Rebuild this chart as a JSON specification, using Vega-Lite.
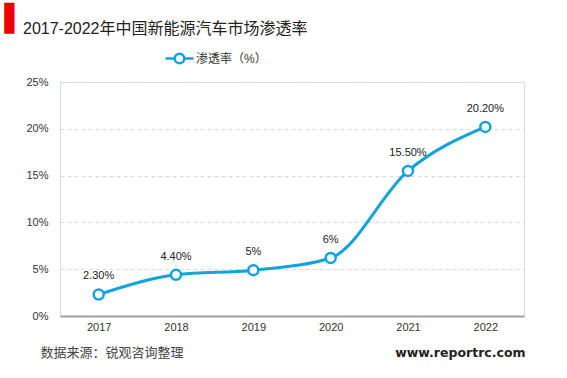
{
  "$schema": "https://vega.github.io/schema/vega-lite/v6.json",
  "width": 464,
  "height": 234,
  "autosize": {"type": "none"},
  "padding": {"left": 60, "top": 82, "right": 43, "bottom": 62},
  "background": "white",
  "config": {
    "view": {"stroke": "#dcdcdc", "strokeWidth": 1},
    "font": "Liberation Sans, Noto Sans CJK SC"
  },
  "data": {
    "values": [
      {"year": "2017", "rate": 2.3, "label": "2.30%", "series": "渗透率（%）"},
      {"year": "2018", "rate": 4.4, "label": "4.40%", "series": "渗透率（%）"},
      {"year": "2019", "rate": 4.9, "label": "5%", "series": "渗透率（%）"},
      {"year": "2020", "rate": 6.2, "label": "6%", "series": "渗透率（%）"},
      {"year": "2021", "rate": 15.5, "label": "15.50%", "series": "渗透率（%）"},
      {"year": "2022", "rate": 20.2, "label": "20.20%", "series": "渗透率（%）"}
    ]
  },
  "layer": [
    {
      "mark": {"type": "line", "interpolate": "monotone", "strokeWidth": 3},
      "encoding": {
        "x": {
          "field": "year", "type": "ordinal",
          "scale": {"type": "point", "padding": 0.5},
          "axis": {
            "orient": "bottom", "domainColor": "#a0a0a0", "domainWidth": 2, "ticks": false,
            "labelPadding": 5, "labelFontSize": 11, "labelColor": "#333", "labelAngle": 0,
            "title": "数据来源：锐观咨询整理", "titleX": -20, "titleY": 36, "titleAlign": "left",
            "titleBaseline": "middle", "titleFontSize": 13, "titleFontWeight": "normal",
            "titleColor": "#444", "titleFont": "Noto Sans CJK SC"
          }
        },
        "y": {
          "field": "rate", "type": "quantitative",
          "scale": {"domain": [0, 25], "nice": false},
          "axis": {
            "orient": "left", "values": [0, 5, 10, 15, 20, 25], "labelExpr": "datum.value + '%'",
            "domain": false, "ticks": false, "grid": true, "gridColor": "#d9d9d9", "gridDash": [4, 3],
            "labelPadding": 12, "labelFontSize": 11, "labelColor": "#333",
            "title": "▌", "titleColor": "#ee0000", "titleFont": "DejaVu Sans", "titleFontSize": 26,
            "titleFontWeight": "normal", "titleAngle": 0, "titleX": -56, "titleY": -77,
            "titleAlign": "left", "titleBaseline": "top"
          }
        },
        "color": {
          "field": "series", "type": "nominal",
          "scale": {"range": ["#12a3dc"]},
          "legend": {
            "title": null, "orient": "none", "legendX": 104, "legendY": -39,
            "symbolType": "M-1,0H-0.34M0.34,0H1M-0.34,0A0.34,0.34,0,1,1,0.34,0A0.34,0.34,0,1,1,-0.34,0Z",
            "symbolSize": 784, "symbolStrokeWidth": 2.5, "symbolFillColor": "white",
            "labelFontSize": 12, "labelColor": "#333", "labelOffset": 1, "padding": 0
          }
        }
      }
    },
    {
      "mark": {"type": "point", "filled": true, "fill": "white", "stroke": "#12a3dc", "strokeWidth": 2.5, "size": 100, "opacity": 1},
      "encoding": {
        "x": {"field": "year", "type": "ordinal", "axis": null},
        "y": {"field": "rate", "type": "quantitative", "axis": null}
      }
    },
    {
      "mark": {"type": "text", "dy": -18, "fontSize": 11, "color": "#222"},
      "encoding": {
        "x": {
          "field": "year", "type": "ordinal",
          "axis": {
            "orient": "top", "labels": false, "ticks": false, "domain": false, "grid": false,
            "title": "2017-2022年中国新能源汽车市场渗透率", "titleX": -37.5, "titleY": -54,
            "titleAlign": "left", "titleBaseline": "middle", "titleFontSize": 16,
            "titleFontWeight": "normal", "titleColor": "#222"
          }
        },
        "y": {
          "field": "rate", "type": "quantitative",
          "axis": {
            "orient": "right", "labels": false, "ticks": false, "domain": false, "grid": false,
            "title": "www.reportrc.com", "titleAngle": 0, "titleX": 1, "titleY": 270,
            "titleAlign": "right", "titleBaseline": "middle", "titleFontSize": 12.5,
            "titleFontWeight": "bold", "titleFont": "DejaVu Sans", "titleColor": "#222"
          }
        },
        "text": {"field": "label"}
      }
    }
  ],
  "resolve": {"axis": {"x": "independent", "y": "independent"}}
}
